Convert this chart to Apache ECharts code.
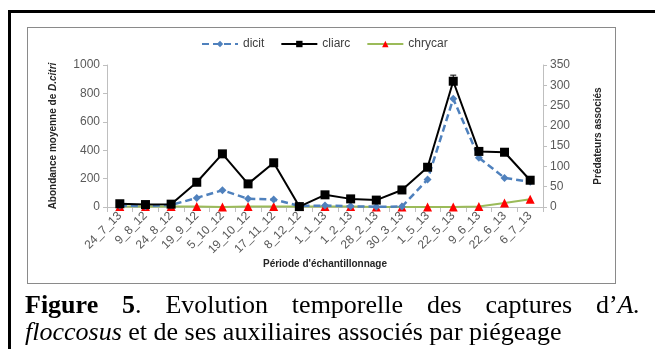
<!DOCTYPE html>
<html>
<head>
<meta charset="utf-8">
<script src="https://cdn.jsdelivr.net/npm/echarts@6/dist/echarts.min.js"></script>
<style>
  html, body { margin: 0; padding: 0; background: #fff; }
  body { width: 655px; height: 349px; position: relative; overflow: hidden; }
  #frame { position: absolute; left: 8px; top: 10px; width: 720px; height: 420px; border: 3px solid #000; box-sizing: border-box; }
  #box { position: absolute; left: 27px; top: 27px; width: 589px; height: 257px; border: 1px solid #8a8a8a; box-sizing: border-box; }
  #chart { position: absolute; left: 0; top: 0; width: 655px; height: 349px; }
  .cap { position: absolute; left: 25px; width: 615px; font-family: "Liberation Serif", "Times New Roman", serif; font-size: 26px; line-height: 27px; color: #000; white-space: nowrap; }
  #cap1 { top: 291px; text-align: justify; text-align-last: justify; }
  #cap2 { top: 318px; text-align: left; }
</style>
</head>
<body>
<div id="frame"></div>
<div id="box"></div>
<div id="chart"></div>
<div id="cap1" class="cap"><b>Figure 5</b>. Evolution temporelle des captures d’<i>A.</i></div>
<div id="cap2" class="cap"><i>floccosus</i> et de ses auxiliaires associés par piégeage</div>
<script>
// Sampling dates
const periods = ['24_7_13', '9_8_12', '24_8_12', '19_9_12', '5_10_12', '19_10_12', '17_11_12', '8_12_12',
  '1_1_13', '1_2_13', '28_2_13', '30_3_13', '1_5_13', '22_5_13', '9_6_13', '22_6_13', '6_7_13'];
// Mean abundance of D. citri (left axis)
const dicit = [10, 6, 14, 64, 118, 58, 53, 8, 10, 5, 2, 3, 194, 762, 347, 205, 177];
// Associated predators (right axis)
const cliarc = [8, 6, 7, 61, 131, 57, 109, 1, 30, 20, 17, 42, 98, 310, 137, 135, 66];
const cliarcErr = [0, 0, 0, 0, 0, 0, 0, 0, 0, 0, 0, 0, 0, 15, 0, 0, 0];
const chrycar = [1, 1, 1, 1, 0, 1, 1, 1, 1, 1, 0, 0, 0, 0, 1, 10, 19];
// Axis tick settings
const leftMax = 1000, leftStep = 200;
const rightMax = 350, rightStep = 50;

const labelFont = 'Liberation Sans, Arial, sans-serif';
const axisGray = '#bfbfbf';
const textGray = '#595959';

const chart = echarts.init(document.getElementById('chart'), null, { renderer: 'canvas' });
chart.setOption({
  animation: false,
  backgroundColor: 'transparent',
  textStyle: { fontFamily: labelFont },
  legend: {
    left: 196, top: 33,
    itemWidth: 36, itemHeight: 8, itemGap: 16,
    textStyle: { fontSize: 12, color: '#404040', fontFamily: labelFont },
    data: ['dicit', 'cliarc', 'chrycar']
  },
  grid: { left: 107, right: 112, top: 65, bottom: 142 },
  xAxis: {
    type: 'category',
    data: periods,
    boundaryGap: true,
    name: 'Période d\'échantillonnage',
    nameLocation: 'middle',
    nameGap: 52,
    nameTextStyle: { fontSize: 10, fontWeight: 'bold', color: '#262626' },
    axisLine: { lineStyle: { color: axisGray, width: 1 } },
    axisTick: { show: true, length: 5, lineStyle: { color: axisGray } },
    axisLabel: { rotate: 45, fontSize: 12, color: textGray, margin: 7, interval: 0 }
  },
  yAxis: [
    {
      type: 'value', min: 0, max: leftMax, interval: leftStep, position: 'left',
      name: '{b|Abondance moyenne de }{bi|D.citri}',
      nameLocation: 'middle', nameGap: 49, nameRotate: 90,
      nameTextStyle: {
        rich: {
          b: { fontSize: 10, fontWeight: 'bold', color: '#262626', fontFamily: labelFont },
          bi: { fontSize: 10, fontWeight: 'bold', fontStyle: 'italic', color: '#262626', fontFamily: labelFont }
        }
      },
      splitLine: { show: false },
      axisLine: { show: true, lineStyle: { color: axisGray } },
      axisTick: { show: true, length: 4, lineStyle: { color: axisGray } },
      axisLabel: { fontSize: 12, color: textGray, margin: 7, formatter: v => String(v) }
    },
    {
      type: 'value', min: 0, max: rightMax, interval: rightStep, position: 'right',
      name: 'Prédateurs associés',
      nameLocation: 'middle', nameGap: 50, nameRotate: 90,
      nameTextStyle: { fontSize: 10, fontWeight: 'bold', color: '#262626' },
      splitLine: { show: false },
      axisLine: { show: true, lineStyle: { color: axisGray } },
      axisTick: { show: true, length: 4, lineStyle: { color: axisGray } },
      axisLabel: { fontSize: 12, color: textGray, margin: 7 }
    }
  ],
  series: [
    {
      name: 'chrycar', type: 'line', yAxisIndex: 1, data: chrycar, z: 2,
      symbol: 'triangle', symbolSize: 9,
      lineStyle: { color: '#9bbb59', width: 2 },
      itemStyle: { color: '#ff0000', borderWidth: 0 }
    },
    {
      name: 'dicit', type: 'line', yAxisIndex: 0, data: dicit, z: 3,
      symbol: 'diamond', symbolSize: 8,
      lineStyle: { color: '#4f81bd', width: 2.5, type: [7, 4] },
      itemStyle: { color: '#4f81bd', borderWidth: 0 }
    },
    {
      name: 'cliarc', type: 'line', yAxisIndex: 1, data: cliarc, z: 4,
      symbol: 'rect', symbolSize: 9,
      lineStyle: { color: '#000000', width: 2 },
      itemStyle: { color: '#000000', borderWidth: 0 }
    },
    {
      // error bars on the predator series
      name: 'cliarcErr', type: 'custom', yAxisIndex: 1, z: 5,
      data: cliarc.map((v, i) => [i, v, cliarcErr[i]]),
      renderItem: function (params, api) {
        const err = api.value(2);
        if (!err) return null;
        const x = api.value(0), v = api.value(1);
        const top = api.coord([x, v + err]);
        const bot = api.coord([x, v]);
        return {
          type: 'group',
          children: [
            { type: 'line', shape: { x1: top[0], y1: top[1], x2: bot[0], y2: bot[1] }, style: { stroke: '#000', lineWidth: 1 } },
            { type: 'line', shape: { x1: top[0] - 3, y1: top[1], x2: top[0] + 3, y2: top[1] }, style: { stroke: '#000', lineWidth: 1 } }
          ]
        };
      }
    }
  ]
});
</script>
</body>
</html>
